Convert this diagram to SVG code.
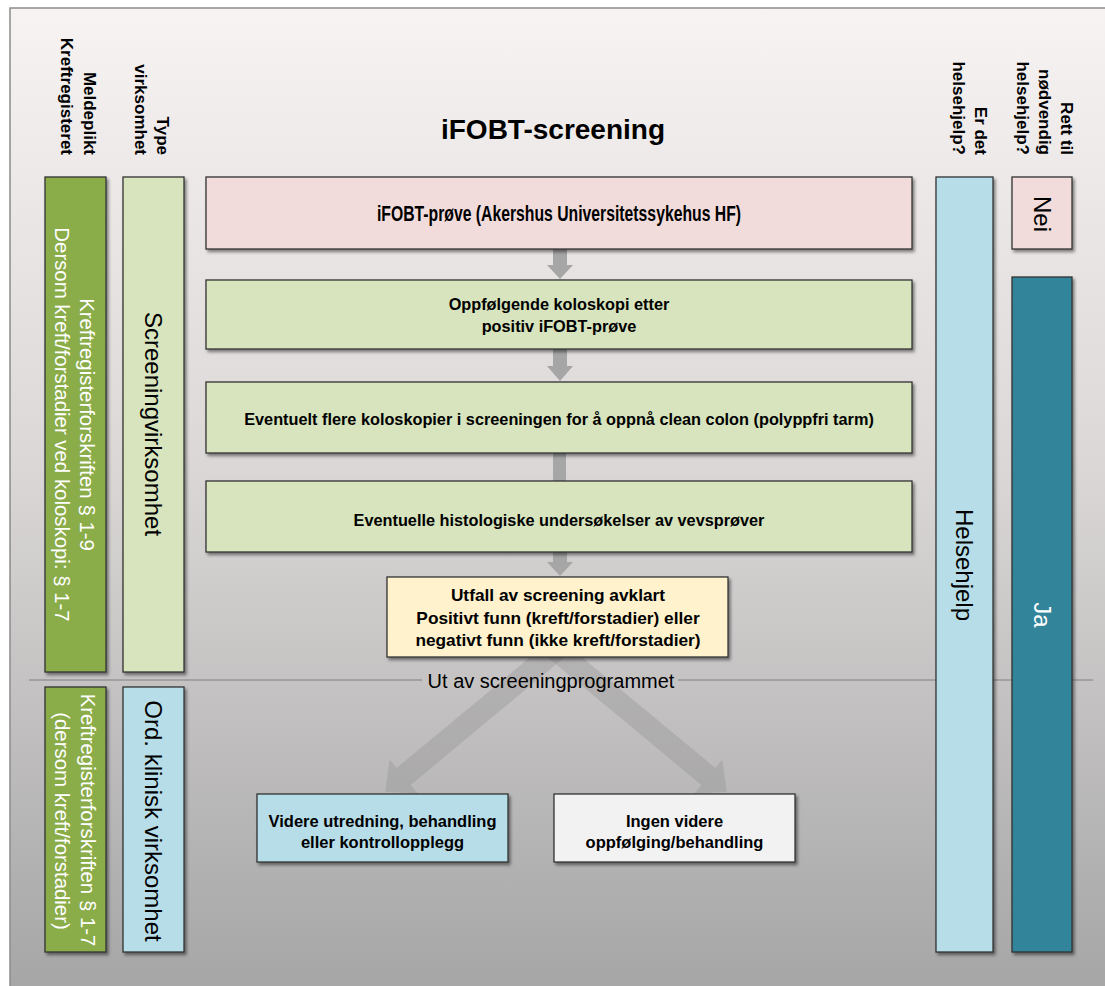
<svg xmlns="http://www.w3.org/2000/svg" width="1105" height="986" viewBox="0 0 1105 986">
<defs>
<linearGradient id="bg" x1="0" y1="0" x2="0" y2="1">
<stop offset="0" stop-color="#f7f3f3"/>
<stop offset="0.45" stop-color="#dcd8d8"/>
<stop offset="1" stop-color="#a5a5a5"/>
</linearGradient>
<filter id="sh" x="-20%" y="-20%" width="140%" height="140%">
<feDropShadow dx="2" dy="2.5" stdDeviation="1.5" flood-color="#000" flood-opacity="0.45"/>
</filter>
<style>
text{font-family:"Liberation Sans",Arial,sans-serif;fill:#000}
.b{font-weight:bold}
.box{stroke:#333;stroke-width:1.3;filter:url(#sh)}
.hd{font-weight:bold;font-size:17px;text-anchor:end}
.bt{font-weight:bold;font-size:16.3px;text-anchor:middle}
.yt{font-weight:bold;font-size:17.3px;text-anchor:middle}
.lt{font-weight:bold;font-size:16.5px;text-anchor:middle}
.rot{font-size:20.4px;text-anchor:middle;fill:#fff}
.lab{font-size:24px;text-anchor:middle}
.arr{fill:#a6a6a6}
.varr{fill:#7f7f7f;fill-opacity:0.26}
</style>
</defs>
<rect x="0" y="0" width="1105" height="986" fill="#fff"/>
<rect x="10" y="8" width="1100" height="990" fill="url(#bg)" stroke="#8c8c8c" stroke-width="1.5"/>

<g id="title"><text class="b" x="553" y="139" font-size="28" text-anchor="middle">iFOBT-screening</text></g>

<g id="headers">
<text class="hd" transform="translate(84,155) rotate(90)">Meldeplikt</text>
<text class="hd" transform="translate(61,155) rotate(90)">Kreftregisteret</text>
<text class="hd" transform="translate(157,155) rotate(90)">Type</text>
<text class="hd" transform="translate(135,155) rotate(90)">virksomhet</text>
<text class="hd" transform="translate(975,155) rotate(90)">Er det</text>
<text class="hd" transform="translate(953,155) rotate(90)">helsehjelp?</text>
<text class="hd" transform="translate(1061,155) rotate(90)">Rett til</text>
<text class="hd" transform="translate(1039,155) rotate(90)">nødvendig</text>
<text class="hd" transform="translate(1017,155) rotate(90)">helsehjelp?</text>
</g>

<g id="divider">
<path d="M29,680 H422 M678,680 H1093" stroke="#808080" stroke-width="1" fill="none"/>
</g>

<g id="connectors">
<polygon class="arr" points="553,249 567,249 567,265 573,265 560,279 547,265 553,265"/>
<polygon class="arr" points="553,349 567,349 567,366 573,366 560,381 547,366 553,366"/>
<rect class="arr" x="553" y="453" width="13" height="28"/>
<polygon class="arr" points="553,552 567,552 567,562 573,562 560,576 547,562 553,562"/>
<polygon class="varr" transform="translate(556,650) rotate(140.3)" points="0,-11 198,-11 198,-22 222,0 198,22 198,11 0,11"/>
<polygon class="varr" transform="translate(556,650) rotate(39.7)" points="0,-11 198,-11 198,-22 222,0 198,22 198,11 0,11"/>
</g>

<g id="out-label"><text x="551" y="688" font-size="20" text-anchor="middle">Ut av screeningprogrammet</text></g>

<g id="col-meldeplikt-screening">
<rect class="box" x="45" y="177" width="61" height="495" fill="#8aac48"/>
<text class="rot" transform="translate(80,424.5) rotate(90)">Kreftregisterforskriften § 1-9</text>
<text class="rot" transform="translate(55,424.5) rotate(90)">Dersom kreft/forstadier ved koloskopi: § 1-7</text>
</g>
<g id="col-screeningvirksomhet">
<rect class="box" x="123" y="177" width="61" height="495" fill="#d7e4bd"/>
<text class="lab" transform="translate(145,424) rotate(90)">Screeningvirksomhet</text>
</g>
<g id="col-meldeplikt-klinisk">
<rect class="box" x="45" y="687" width="61" height="265" fill="#8aac48"/>
<text class="rot" transform="translate(81,820) rotate(90)">Kreftregisterforskriften § 1-7</text>
<text class="rot" transform="translate(55,821) rotate(90)">(dersom kreft/forstadier)</text>
</g>
<g id="col-klinisk">
<rect class="box" x="123" y="687" width="61" height="265" fill="#b7dee8"/>
<text class="lab" transform="translate(145,821) rotate(90)">Ord. klinisk virksomhet</text>
</g>

<g id="col-helsehjelp">
<rect class="box" x="936" y="177" width="57" height="775" fill="#b7dee8"/>
<text class="lab" font-size="23" transform="translate(956,565) rotate(90)">Helsehjelp</text>
</g>
<g id="col-nei">
<rect class="box" x="1012" y="177" width="60" height="72" fill="#f2dcdb"/>
<text class="lab" font-size="22" transform="translate(1034,214) rotate(90)">Nei</text>
</g>
<g id="col-ja">
<rect class="box" x="1012" y="277" width="60" height="675" fill="#31849b"/>
<text class="lab" font-size="22" style="fill:#fff" transform="translate(1034,615) rotate(90)">Ja</text>
</g>

<g id="n-ifobt">
<rect class="box" x="206" y="177" width="706" height="72" fill="#f2dcdb"/>
<text class="b" x="559" y="221" font-size="22" text-anchor="middle" textLength="364" lengthAdjust="spacingAndGlyphs">iFOBT-prøve (Akershus Universitetssykehus HF)</text>
</g>
<g id="n-koloskopi">
<rect class="box" x="206" y="280" width="706" height="69" fill="#d7e4bd"/>
<text class="bt" x="559" y="310">Oppfølgende koloskopi etter</text>
<text class="bt" x="559" y="332">positiv iFOBT-prøve</text>
</g>
<g id="n-flere">
<rect class="box" x="206" y="382" width="706" height="71" fill="#d7e4bd"/>
<text class="bt" x="559" y="425">Eventuelt flere koloskopier i screeningen for å oppnå clean colon (polyppfri tarm)</text>
</g>
<g id="n-histologi">
<rect class="box" x="206" y="481" width="706" height="71" fill="#d7e4bd"/>
<text class="bt" x="559" y="526">Eventuelle histologiske undersøkelser av vevsprøver</text>
</g>
<g id="n-utfall">
<rect class="box" x="387" y="577" width="341" height="80" fill="#fff2cc"/>
<text class="yt" x="558" y="601">Utfall av screening avklart</text>
<text class="yt" x="558" y="624">Positivt funn (kreft/forstadier) eller</text>
<text class="yt" x="558" y="646">negativt funn (ikke kreft/forstadier)</text>
</g>
<g id="n-videre">
<rect class="box" x="257" y="794" width="251" height="68" fill="#b7dee8"/>
<text class="lt" x="382.5" y="827">Videre utredning, behandling</text>
<text class="lt" x="382.5" y="848">eller kontrollopplegg</text>
</g>
<g id="n-ingen">
<rect class="box" x="554" y="794" width="241" height="68" fill="#f2f2f2"/>
<text class="lt" x="674.5" y="827">Ingen videre</text>
<text class="lt" x="674.5" y="848">oppfølging/behandling</text>
</g>
</svg>
